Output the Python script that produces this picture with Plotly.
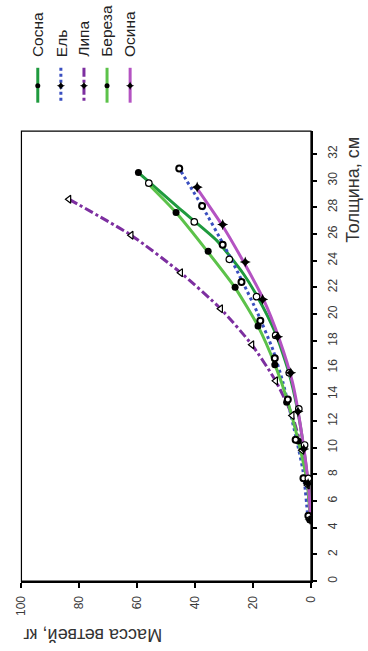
import plotly.graph_objects as go

W, H = 368, 651

# Species names and styles
species = ["Сосна", "Ель", "Липа", "Береза", "Осина"]
line_colors = ["#1f9a3e", "#3a4fc0", "#7d2fa0", "#5cc24a", "#b453c2"]
line_dash = ["solid", "dot", "dashdot", "solid", "solid"]

# Observed data points: stem thickness (cm) and branch mass (kg)
pine_t = [30.6, 27.6, 24.7, 22.0, 19.1, 16.2, 13.4, 10.5, 7.5, 4.8]
pine_m = [59.6, 46.6, 35.5, 26.2, 18.3, 12.5, 8.4, 4.4, 1.5, 0.4]
spruce_t = [30.9, 28.1, 25.2, 22.4, 19.5, 16.7, 13.6, 10.6, 7.7, 4.9]
spruce_m = [45.5, 37.6, 30.5, 24.0, 17.5, 12.5, 8.0, 5.3, 2.6, 0.9]
linden_t = [28.6, 25.9, 23.1, 20.4, 17.7, 15.0, 12.4, 9.8, 7.2, 4.6]
linden_m = [83.6, 62.1, 45.0, 31.2, 20.4, 12.2, 6.5, 3.1, 1.2, 0.3]
birch_t = [29.8, 26.9, 24.1, 21.3, 18.4, 15.6, 12.9, 10.2, 7.7, 4.6]
birch_m = [56.0, 40.3, 28.2, 18.8, 12.2, 7.5, 4.2, 2.2, 0.9, 0.3]
aspen_t = [29.5, 26.7, 23.9, 21.1, 18.3, 15.6, 12.7, 9.9, 7.3, 4.6]
aspen_m = [39.3, 30.5, 22.7, 16.7, 11.5, 7.0, 4.5, 2.5, 1.0, 0.3]

# Fitted regression curves
pine_fit_t = [4.6, 7.0, 10.1, 13.0, 15.6, 18.6, 21.3, 23.0, 25.5, 28.0, 30.6]
pine_fit_m = [0.2, 0.9, 2.6, 4.8, 7.6, 12.3, 18.5, 23.3, 32.5, 46.0, 59.6]
spruce_fit_t = [4.6, 8.2, 10.9, 14.9, 17.3, 20.2, 22.4, 25.0, 28.0, 30.9]
spruce_fit_m = [1.0, 2.7, 5.3, 9.7, 13.1, 18.7, 23.6, 29.7, 37.4, 45.5]
linden_fit_t = [4.6, 7.2, 9.8, 12.4, 15.0, 17.7, 20.4, 23.1, 25.9, 28.6]
linden_fit_m = [0.3, 1.2, 3.1, 6.5, 12.2, 20.4, 31.2, 45.0, 62.1, 83.6]
birch_fit_t = [4.6, 7.5, 10.5, 13.5, 16.2, 19.1, 22.0, 24.7, 27.6, 29.7]
birch_fit_m = [0.2, 1.4, 4.4, 8.1, 12.4, 18.3, 26.3, 35.8, 46.6, 56.0]
aspen_fit_t = [4.8, 7.0, 10.9, 14.9, 18.1, 21.1, 23.8, 26.6, 29.4]
aspen_fit_m = [0.2, 0.8, 3.1, 6.4, 10.9, 16.4, 23.0, 30.5, 39.3]

mass_ticks = [0, 20, 40, 60, 80, 100]
thick_ticks = list(range(0, 33, 2))

FONT = "Liberation Sans, Arial, sans-serif"

fig = go.Figure()

fits = [
    (pine_fit_t, pine_fit_m),
    (spruce_fit_t, spruce_fit_m),
    (linden_fit_t, linden_fit_m),
    (birch_fit_t, birch_fit_m),
    (aspen_fit_t, aspen_fit_m),
]
for name, (ft, fm), col, dash in zip(species, fits, line_colors, line_dash):
    fig.add_trace(go.Scatter(
        x=fm, y=ft, mode="lines", name=name, showlegend=False,
        line=dict(color=col, width=3, dash=dash, shape="spline", smoothing=0.6),
    ))

points = [
    (pine_t, pine_m, dict(symbol="circle", size=7, color="black")),
    (spruce_t, spruce_m, dict(symbol="circle", size=6, color="white",
                               line=dict(color="black", width=2))),
    (linden_t, linden_m, dict(symbol="triangle-left", size=7, color="white",
                               line=dict(color="black", width=1.2))),
    (birch_t, birch_m, dict(symbol="circle", size=6.5, color="white",
                             line=dict(color="black", width=1.2))),
    (aspen_t, aspen_m, dict(symbol="star-diamond", size=8, color="black")),
]
for name, (pt, pm, mk) in zip(species, points):
    fig.add_trace(go.Scatter(x=pm, y=pt, mode="markers", name=name,
                             showlegend=False, marker=mk))

# Hand-drawn vertical legend across the top (pixel-based overlay axes)
leg_x = [32, 56, 80, 104, 128]
leg_marker = [
    dict(symbol="circle", size=5, color="black"),
    dict(symbol="star-diamond", size=6, color="black"),
    dict(symbol="star-diamond", size=6, color="black"),
    dict(symbol="circle", size=5, color="black"),
    dict(symbol="star-diamond", size=6, color="black"),
]
for name, lx, col, dash, mk in zip(species, leg_x, line_colors, line_dash, leg_marker):
    fig.add_trace(go.Scatter(x=[lx, lx], y=[68, 103], mode="lines",
                             xaxis="x2", yaxis="y2", showlegend=False,
                             line=dict(color=col, width=3, dash=dash)))
    fig.add_trace(go.Scatter(x=[lx], y=[86], mode="markers",
                             xaxis="x2", yaxis="y2", showlegend=False, marker=mk))
    fig.add_annotation(x=lx / W, y=1 - 59 / H, xref="paper", yref="paper",
                       text=name, textangle=-90, showarrow=False,
                       xanchor="center", yanchor="bottom",
                       font=dict(family=FONT, size=15.5, color="#222"))

x0, x1 = 15 / W, 316 / W
y0, y1 = 1 - 583 / H, 1 - 131.5 / H

fig.update_layout(
    width=W, height=H,
    margin=dict(l=0, r=0, t=0, b=0),
    paper_bgcolor="white", plot_bgcolor="rgba(0,0,0,0)",
    showlegend=False,
    xaxis=dict(domain=[x0, x1], range=[100, 0], tickvals=mass_ticks,
               ticks="outside", ticklen=5, tickwidth=2, tickcolor="black",
               tickangle=-90, showgrid=False, zeroline=False,
               showline=True, linecolor="black", linewidth=2,
               ticklabelstandoff=3,
               tickfont=dict(family=FONT, size=12, color="#3a3a3a"),
               anchor="y"),
    yaxis=dict(domain=[y0, y1], range=[0, 33.7], tickvals=thick_ticks,
               side="right", ticks="outside", ticklen=4, tickwidth=2,
               tickcolor="black", tickangle=-90, showgrid=False, zeroline=False,
               showline=True, linecolor="black", linewidth=2,
               ticklabelstandoff=6,
               tickfont=dict(family=FONT, size=12, color="#3a3a3a"),
               anchor="x"),
    xaxis2=dict(domain=[0, 1], range=[0, W], visible=False, anchor="y2",
                fixedrange=True),
    yaxis2=dict(domain=[0, 1], range=[H, 0], visible=False, anchor="x2",
                fixedrange=True),
    shapes=[dict(type="rect", xref="x domain", yref="y domain",
                 x0=0, x1=1, y0=0, y1=1, line=dict(color="black", width=1.2),
                 layer="below")],
)

fig.add_annotation(x=360 / W, y=1 - 190 / H, xref="paper", yref="paper",
                   text="Толщина, см", textangle=-90, showarrow=False,
                   xanchor="center", yanchor="middle",
                   font=dict(family=FONT, size=18, color="#333"))
fig.add_annotation(x=89 / W, y=1 - 637 / H, xref="paper", yref="paper",
                   text="Масса ветвей, кг", textangle=180, showarrow=False,
                   xanchor="center", yanchor="middle",
                   font=dict(family=FONT, size=18, color="#333"))

fig.write_html("out.html")
